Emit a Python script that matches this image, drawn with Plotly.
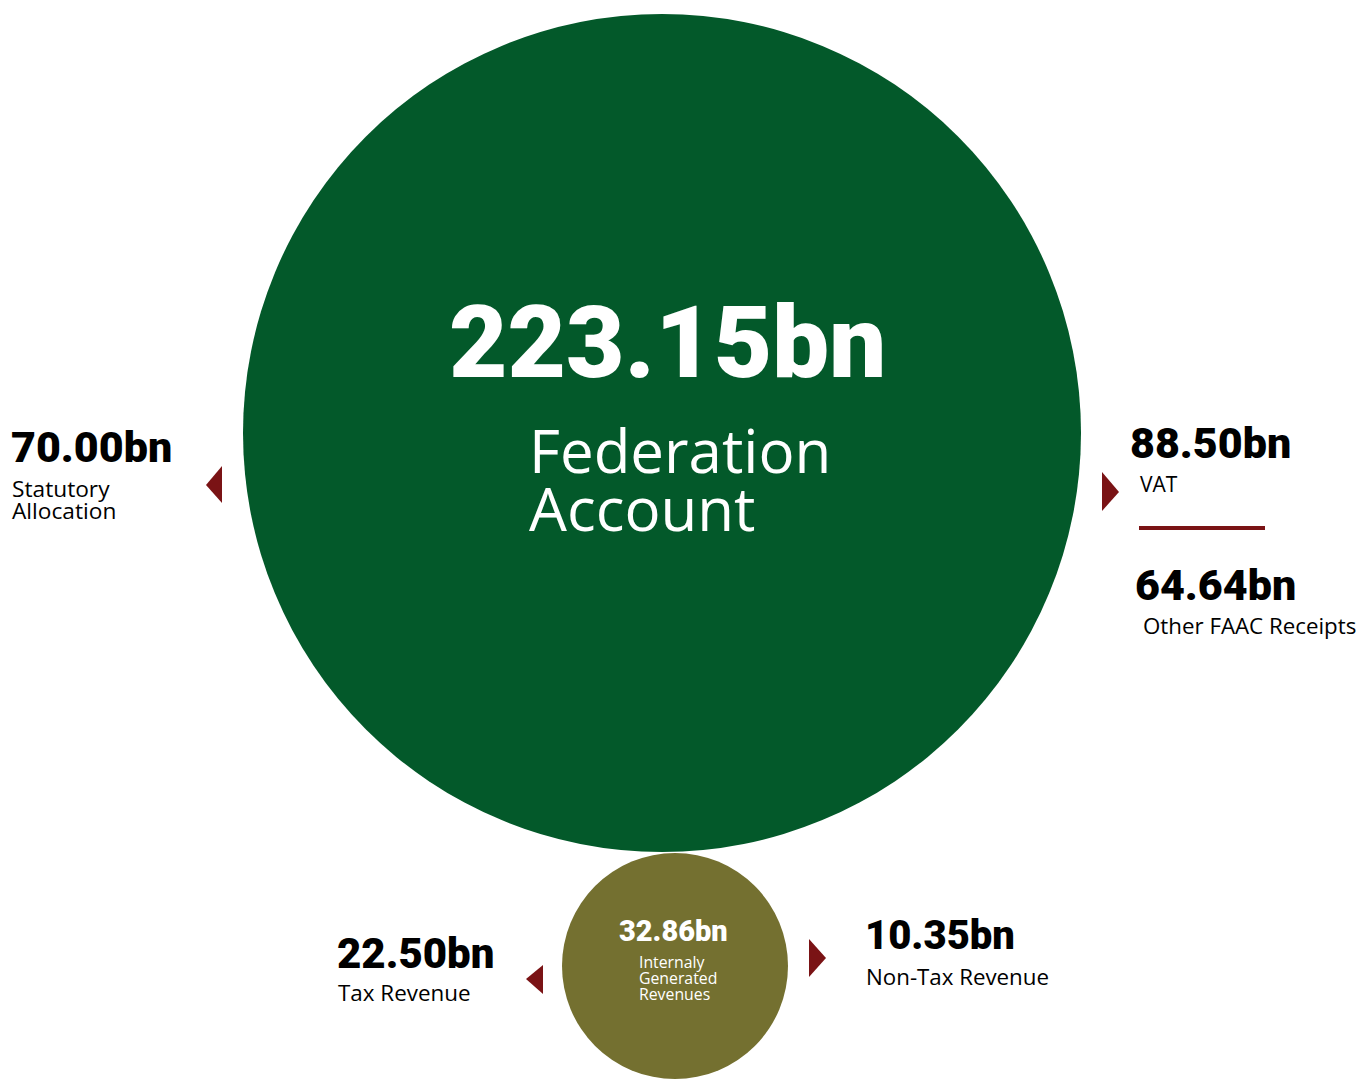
import plotly.graph_objects as go

# ---- data ----
fed_total = 223.15
fed_label = ["Federation", "Account"]
fed_sources = ["Statutory Allocation", "VAT", "Other FAAC Receipts"]
fed_values = [70.00, 88.50, 64.64]
igr_total = 32.86
igr_label = ["Internaly", "Generated", "Revenues"]
igr_sources = ["Tax Revenue", "Non-Tax Revenue"]
igr_values = [22.50, 10.35]

GREEN = "#03592A"
OLIVE = "#747030"
RED = "#7A1315"
NUMF = dict(family="Roboto, Lato, Arial", weight=900, color="black")
LABF = dict(family="Open Sans, Noto Sans, Arial", color="black")

# page offset (browser body margin) so that data coords == page pixels
OFF = 8
W, H = 1367, 1079

fig = go.Figure()
fig.add_trace(go.Scatter(x=[OFF, W + OFF], y=[OFF, H + OFF], mode="markers",
                         marker=dict(opacity=0), hoverinfo="skip", showlegend=False))

def fmt(v):
    return f"{v:.2f}bn"

shapes = [
    dict(type="circle", x0=243, x1=1081, y0=14, y1=852, fillcolor=GREEN, line=dict(width=0), layer="below"),
    dict(type="circle", x0=562, x1=788, y0=853, y1=1079, fillcolor=OLIVE, line=dict(width=0), layer="below"),
    dict(type="path", path="M 206 485 L 222 466 L 222 503 Z", fillcolor=RED, line=dict(width=0)),
    dict(type="path", path="M 1102 472 L 1119 492 L 1102 511 Z", fillcolor=RED, line=dict(width=0)),
    dict(type="path", path="M 526 979 L 543 965 L 543 994 Z", fillcolor=RED, line=dict(width=0)),
    dict(type="path", path="M 809 939 L 826 958 L 809 977 Z", fillcolor=RED, line=dict(width=0)),
    dict(type="line", x0=1139, x1=1265, y0=528, y1=528, line=dict(color=RED, width=4)),
]

ann = []
def add(text, x, y, size, font, xanchor="left", color=None):
    f = dict(font, size=size)
    if color:
        f["color"] = color
    ann.append(dict(text=text, x=x, y=y, xref="x", yref="y", xanchor=xanchor, yanchor="middle",
                    showarrow=False, font=f, align="left"))

def block(lines, glyph, spacing):
    # tight leading: line step is 1.3em of the base font, glyphs drawn at `glyph` px
    base = spacing / 1.3
    txt = "<br>".join(f'<span style="font-size:{glyph}px">{l}</span>' for l in lines)
    return txt, base

# Federation account
add(fmt(fed_total), 667, 342, 101, NUMF, xanchor="center", color="white")
t, b = block(fed_label, 60, 58)
add(t, 527, 479, b, LABF, color="white")

# Statutory allocation
add(fmt(fed_values[0]), 9, 447, 43, NUMF)
t, b = block(["Statutory", "Allocation"], 22.7, 22)
add(t, 10, 499, b, LABF)

# VAT
add(fmt(fed_values[1]), 1128, 443, 43, NUMF)
add(fed_sources[1], 1138, 484, 21, LABF)

# Other FAAC
add(fmt(fed_values[2]), 1133, 585, 43, NUMF)
add(fed_sources[2], 1141, 625, 22.3, LABF)

# IGR
add(fmt(igr_total), 673, 931, 29, NUMF, xanchor="center", color="white")
t, b = block(igr_label, 15.8, 16)
add(t, 637, 978, b, LABF, color="white")

# Tax revenue
add(fmt(igr_values[0]), 335, 953, 42, NUMF)
add(igr_sources[0], 336, 992, 22.4, LABF)

# Non-tax revenue
add(fmt(igr_values[1]), 863, 935, 40, NUMF)
add(igr_sources[1], 864, 976, 22.3, LABF)

fig.update_layout(
    width=W, height=H, margin=dict(l=0, r=0, t=0, b=0),
    paper_bgcolor="white", plot_bgcolor="white",
    xaxis=dict(range=[OFF, W + OFF], visible=False, fixedrange=True),
    yaxis=dict(range=[H + OFF, OFF], visible=False, fixedrange=True),
    shapes=shapes, annotations=ann, showlegend=False,
)
fig.write_html("out.html")
